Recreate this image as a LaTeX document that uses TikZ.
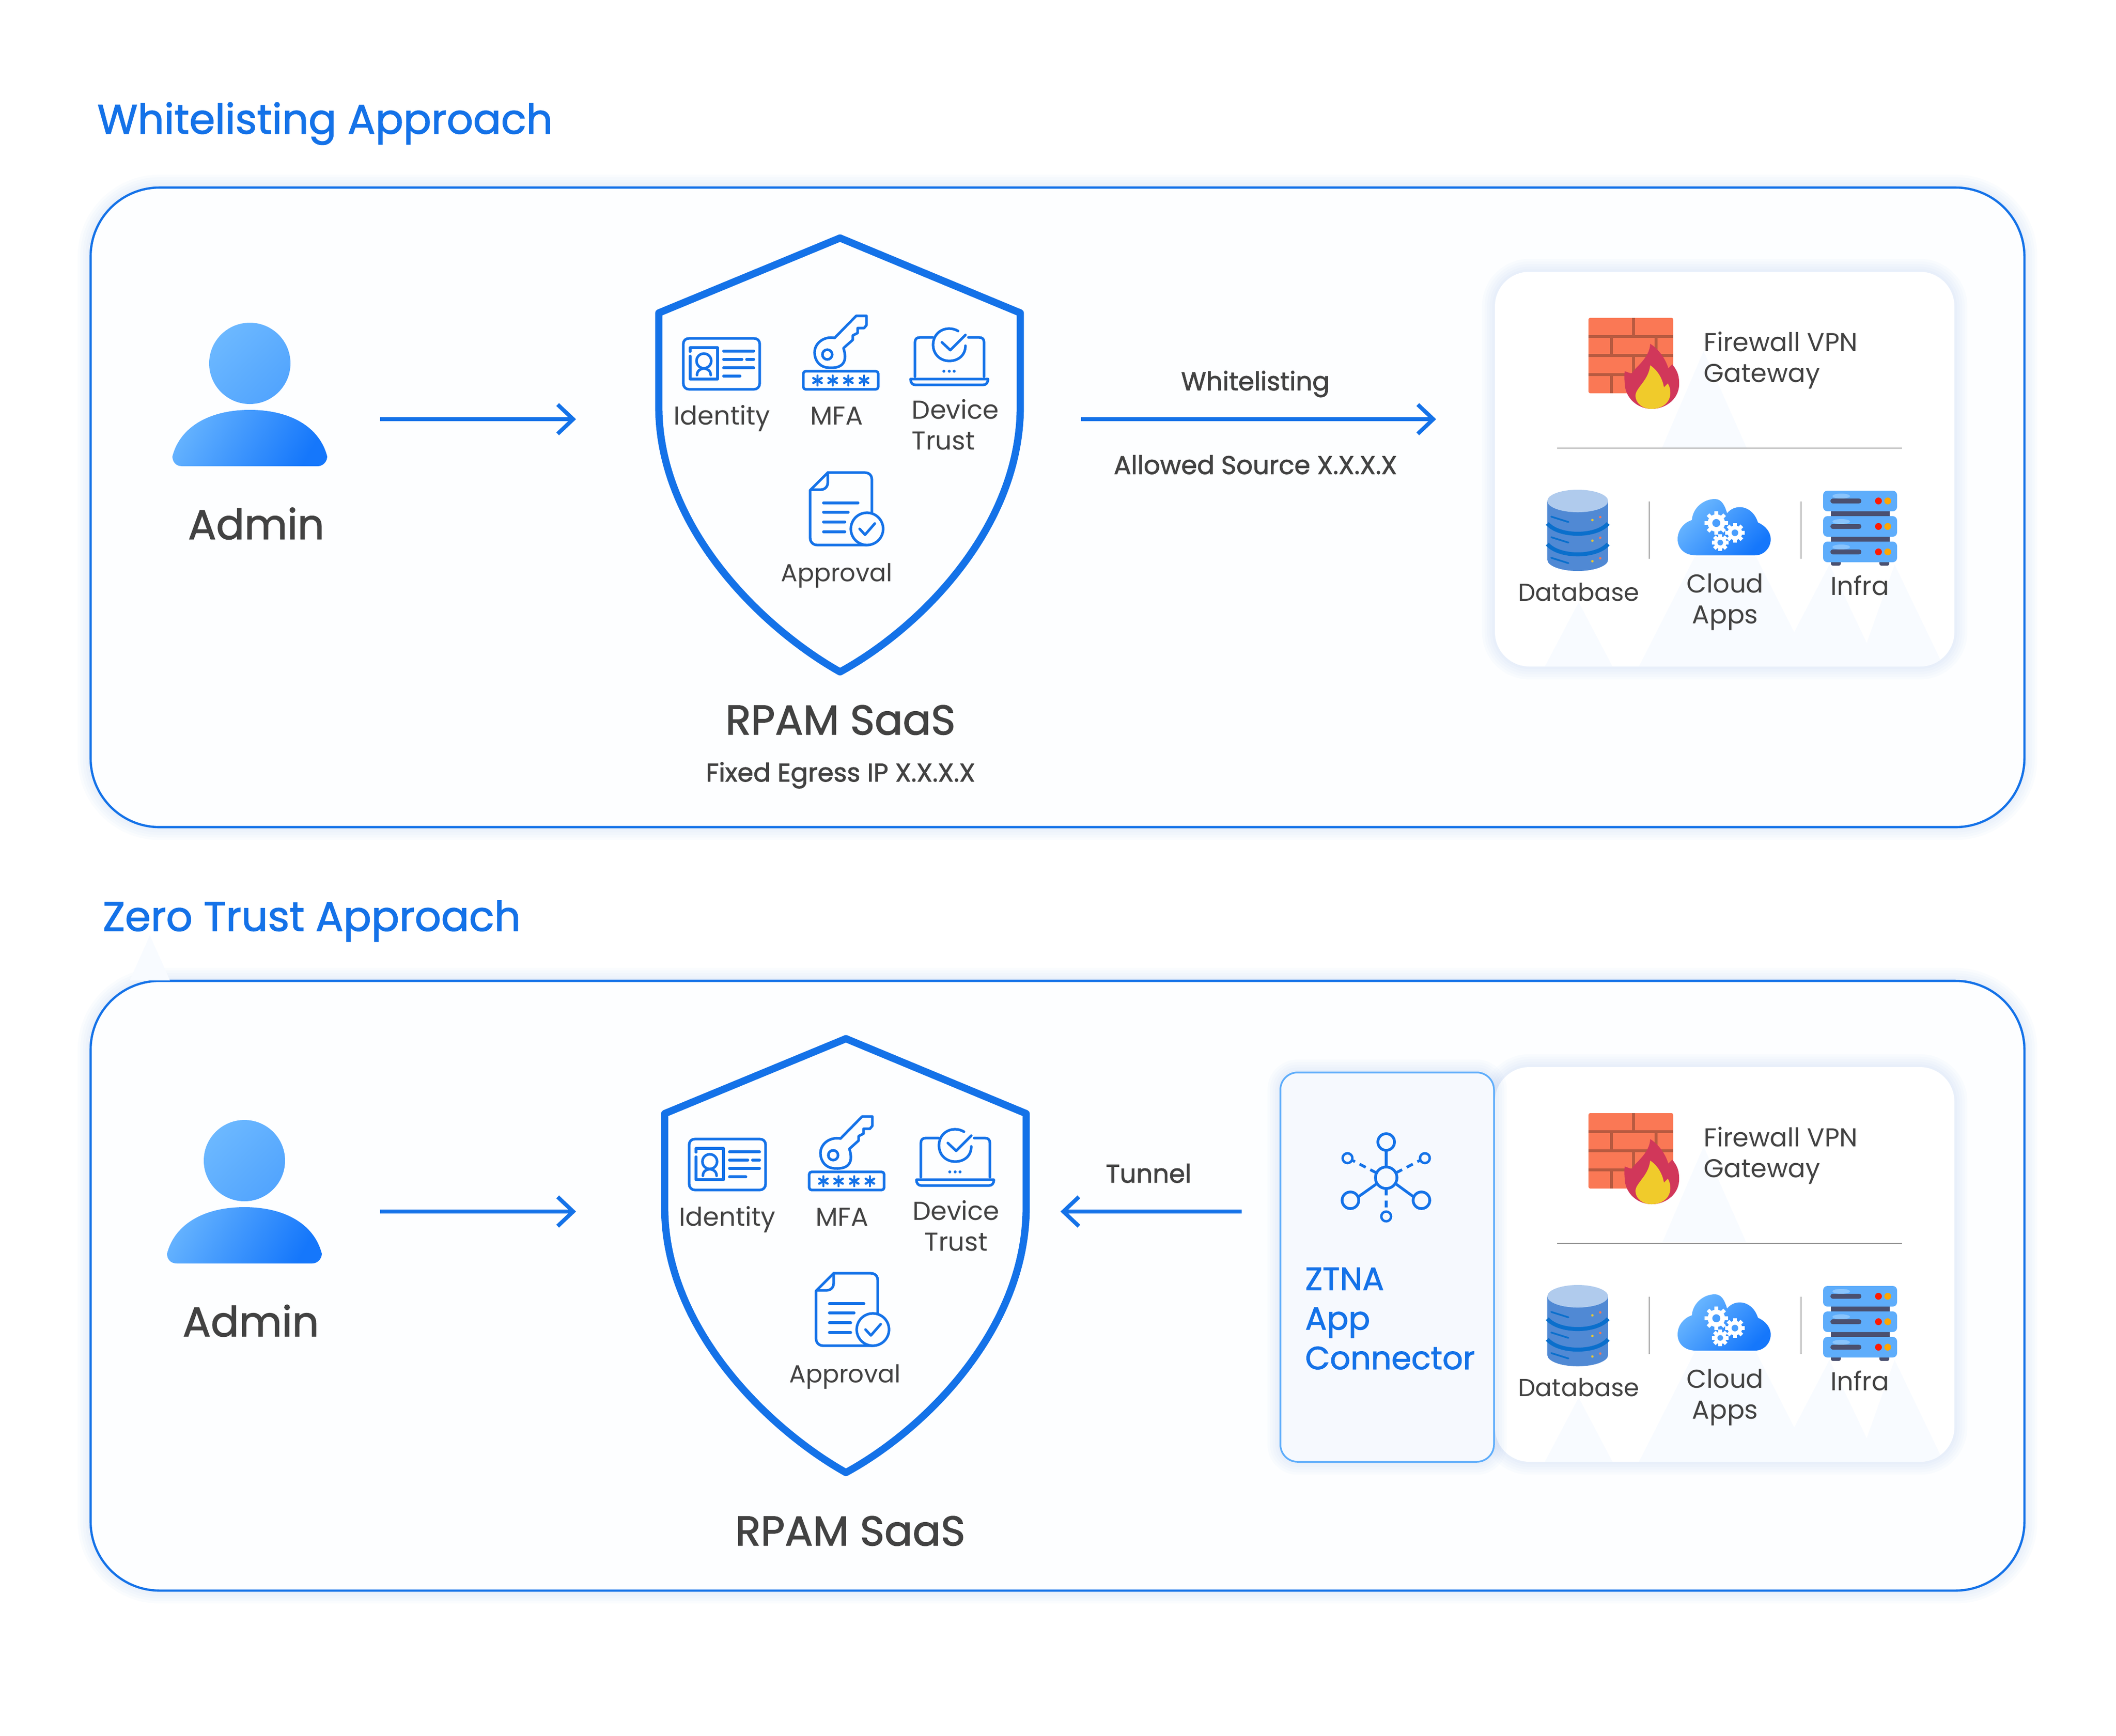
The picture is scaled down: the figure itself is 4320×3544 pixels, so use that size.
\documentclass[tikz,border=0pt]{standalone}
\usepackage{fontspec}
\setmainfont{Poppins}
\newfontfamily\medfont[FakeBold=1.6]{Poppins}
\usetikzlibrary{arrows.meta}

\definecolor{brand}{HTML}{1472E8}
\definecolor{txtdark}{HTML}{424242}
\definecolor{panelfill}{HTML}{FDFEFF}
\definecolor{glowblue}{HTML}{4F8FE0}
\definecolor{faint}{HTML}{F8FBFF}
\definecolor{sepgray}{HTML}{9A9A9A}
\definecolor{brick}{HTML}{FA7855}
\definecolor{mortar}{HTML}{B85A40}
\definecolor{flamered}{HTML}{D1375A}
\definecolor{flameyel}{HTML}{F0CB2B}
\definecolor{dbbody}{HTML}{5089D4}
\definecolor{dbtop}{HTML}{B0CBED}
\definecolor{dbband}{HTML}{0A6FCC}
\definecolor{slab}{HTML}{5EADFB}
\definecolor{slabdark}{HTML}{4A5070}
\definecolor{lightblue}{HTML}{6CB8FF}
\definecolor{deepblue}{HTML}{1577FB}

% soft halo round a rounded box
\newcommand{\softglow}[3]{%
	\foreach \w in {3,6,...,15}
		{\draw [glowblue, draw opacity=.022, line width=\w pt, rounded corners=#3] #1 rectangle #2;}
}

\begin{document}
\begin{tikzpicture}[%
	x=0.01cm, y=-0.01cm,%
	title/.style ={font=\medfont\fontsize{24}{29}\selectfont, text=brand, inner sep=0pt, anchor=base west},%
	head/.style ={font=\medfont\fontsize{24.2}{29}\selectfont, text=txtdark, inner sep=0pt, anchor=base},%
	small/.style ={font=\fontsize{15}{17.9}\selectfont, text=txtdark, inner sep=0pt, anchor=base},%
	tight/.style ={small, font=\fontsize{14.3}{17.9}\selectfont},%
	note/.style ={font=\medfont\fontsize{14.9}{17}\selectfont, text=txtdark, inner sep=0pt, anchor=base},%
	icon/.style ={draw=brand, line width=1.5pt, line cap=round, line join=round},%
	flow/.style ={draw=brand, line width=2.3pt, -{Straight Barb[length=9pt,width=17pt,line width=2.3pt]}},%
	sep/.style ={draw=sepgray, line width=0.8pt},%
	]
\useasboundingbox (0,0) rectangle (4320,3544);
\fill [white] (0,0) rectangle (4320,3544);
%%% panels
	\foreach \ya/\yb in {383/1689,2003/3248}
		{\softglow{(185,\ya)}{(4133,\yb)}{40pt}
		\draw [brand, fill=panelfill, line width=1.3pt, rounded corners=40pt] (185,\ya) rectangle (4133,\yb);}
	\fill [faint] (306,1910) -- (265,2002) -- (347,2002) -- cycle;
	\node [title] (titlewhite) at (198,273) {Whitelisting Approach};
	\node [title] (titlezero) at (209,1901) {Zero Trust Approach};
%%% panels
%%% admin
	\foreach \s/\dx/\dy in {t/0/0,b/-11/1628}
	{
	\begin{scope}[shift={(\dx,\dy)}]
		\shade [left color=lightblue, right color=lightblue!70!deepblue, shading angle=45] (510,742) circle (83);
		\shade [left color=lightblue!90!deepblue, right color=deepblue, shading angle=60]
			(372,952) .. controls (358,952) and (352,942) .. (352,932)
			.. controls (368,870) and (430,837) .. (510,837)
			.. controls (590,837) and (652,870) .. (668,932)
			.. controls (668,942) and (660,952) .. (648,952) -- cycle;
		\node [head] (admin\s) at (523,1101) {Admin};
	\end{scope}
	}
%%% admin
%%% shields
	\foreach \s/\dx/\dy in {t/0/0,b/12/1635}
	{
	\begin{scope}[shift={(\dx,\dy)}]
		\draw [brand, line width=4.2pt, line join=round]
			(1715,486) -- (2083,639) -- (2083,830)
			.. controls (2083,1080) and (1875,1285) .. (1715,1372)
			.. controls (1560,1285) and (1345,1080) .. (1345,830)
			-- (1345,639) -- cycle;
		% identity
		\draw [icon] (1395,703) .. controls (1395,695) and (1400,691) .. (1407,691) -- (1539,691)
			.. controls (1546,691) and (1551,695) .. (1551,703) -- (1551,783)
			.. controls (1551,790) and (1546,795) .. (1539,795) -- (1407,795)
			.. controls (1400,795) and (1395,790) .. (1395,783) -- cycle;
		\draw [icon] (1409,718) -- (1409,710) -- (1465,710) -- (1465,774) -- (1409,774) -- (1409,727);
		\draw [icon] (1437,737) circle (15);
		\draw [icon] (1423,766) .. controls (1423,748) and (1451,748) .. (1451,766);
		\draw [icon] (1477,717) -- (1539,717);
		\draw [icon] (1477,734) -- (1515,734) (1524,734) -- (1539,734);
		\draw [icon] (1477,751) -- (1539,751);
		\draw [icon] (1477,768) -- (1511,768);
		% mfa
		\begin{scope}[xshift=-0.02cm]
		\draw [icon] (1642,763) .. controls (1642,760) and (1644,758) .. (1647,758) -- (1790,758)
			.. controls (1793,758) and (1795,760) .. (1795,763) -- (1795,790)
			.. controls (1795,793) and (1793,795) .. (1790,795) -- (1647,795)
			.. controls (1644,795) and (1642,793) .. (1642,790) -- cycle;
		\foreach \x in {1671,1702,1734,1766}
			\foreach \a in {90,30,-30}
				{\draw [brand, line width=1.3pt, line cap=round] (\x,777) ++(\a:10) -- ++(\a+180:20);}
		\draw [icon] (1724,711) .. controls (1735,745) and (1715,752) .. (1696,751)
			.. controls (1675,751) and (1665,735) .. (1665,720)
			.. controls (1665,700) and (1685,686) .. (1706,690)
			-- (1750,645) -- (1771,645) -- (1771,664) -- (1766,670) -- (1753,670)
			-- (1753,680) -- (1743,685) -- (1743,694) -- cycle;
		\draw [icon] (1691,724) circle (10);
		\end{scope}
		% device
		\begin{scope}[xshift=-0.05cm]
		\draw [icon] (1909,689) -- (1883,689) .. controls (1876,689) and (1873,693) .. (1873,699) -- (1873,769);
		\draw [icon] (1982,689) -- (2004,689) .. controls (2011,689) and (2014,693) .. (2014,699) -- (2014,769);
		\draw [icon] (1864,774) -- (2022,774) .. controls (2022,782) and (2018,786) .. (2012,786)
			-- (1874,786) .. controls (1868,786) and (1864,782) .. (1864,774) -- cycle;
		\draw [icon] (1976,706) .. controls (1976,725) and (1962,737) .. (1943,737)
			.. controls (1924,737) and (1910,723) .. (1910,704)
			.. controls (1910,685) and (1924,671) .. (1943,671) .. controls (1950,671) and (1956,673) .. (1961,676);
		\draw [icon] (1928,699) -- (1945,715) -- (1976,684);
		\foreach \x in {1932,1943,1953}
			{\fill [brand] (\x,758) circle (3);}
		\end{scope}
		% approval
		\draw [icon] (1690,965) -- (1765,965) .. controls (1775,965) and (1780,971) .. (1780,980) -- (1780,1046);
		\draw [icon] (1690,965) -- (1654,1001) -- (1654,1098) .. controls (1654,1107) and (1660,1113) .. (1669,1113) -- (1770,1113);
		\draw [icon] (1690,967) -- (1690,985) .. controls (1690,994) and (1684,1000) .. (1675,1000) -- (1656,1000);
		\foreach \y/\xb in {1027/1752,1046/1732,1066/1725,1086/1725}
			{\draw [icon] (1681,\y) -- (\xb,\y);}
		\draw [icon, fill=panelfill] (1770,1080) circle (33);
		\draw [icon] (1755,1080) -- (1766,1092) -- (1786,1069);
	\end{scope}
	}
	\node [small] (identityt) at (1474,867) {Identity};
	\node [small] (mfat) at (1708,867) {MFA};
	\node [small, align=left, anchor=base west] (devicet) at (1861,918) {Device\\Trust};
	\node [tight] (approvalt) at (1708,1187) {Approval};
	\node [head] (rpamt) at (1716,1500) {RPAM SaaS};
	\node [note] (egresst) at (1716,1596) {Fixed Egress IP X.X.X.X};
	\node [small] (identityb) at (1485,2503) {Identity};
	\node [small] (mfab) at (1719,2503) {MFA};
	\node [small, align=center] (deviceb) at (1952,2554) {Device\\Trust};
	\node [tight] (approvalb) at (1725,2823) {Approval};
	\node [head] (rpamb) at (1736,3156) {RPAM SaaS};
%%% shields
%%% resource boxes
	\foreach \s/\dy in {t/0,b/1624}
	{
	\begin{scope}[shift={(0,\dy)}]
		\softglow{(3052,555)}{(3990,1361)}{20pt}
		\fill [white, rounded corners=20pt] (3052,555) rectangle (3990,1361);
		\begin{scope}
			\clip [rounded corners=20pt] (3052,555) rectangle (3990,1361);
			\fill [faint] (3478,717) -- (3393,915) -- (3566,915) -- cycle;
			\fill [faint] (3223,1230) -- (3154,1361) -- (3292,1361) -- cycle;
			\fill [faint] (3346,1361) -- (3460,1137) -- (3585,1137) -- (3663,1291) -- (3735,1153)
				-- (3811,1313) -- (3868,1153) -- (3968,1361) -- cycle;
		\end{scope}
		\begin{scope}[shift={(-2,-3)}]
		% firewall
		\fill [brick, rounded corners=1pt] (3245,652) rectangle (3418,806);
		\foreach \y in {690,729,768}
			{\draw [mortar, line width=1.5pt] (3245,\y) -- (3418,\y);}
		\foreach \x/\ya/\yb in {3337/652/690,3292/690/729,3383/690/729,3337/729/768,3292/768/806,3383/768/806}
			{\draw [mortar, line width=1.5pt] (\x,\ya) -- (\x,\yb);}
		\fill [flamered] (3371,705) .. controls (3390,717) and (3403,738) .. (3408,755)
			-- (3416,747) .. controls (3425,758) and (3430,768) .. (3430,784)
			.. controls (3432,815) and (3405,838) .. (3374,838)
			.. controls (3345,838) and (3319,815) .. (3319,785)
			.. controls (3318,775) and (3318,768) .. (3319,761)
			-- (3333,766) .. controls (3338,755) and (3370,735) .. (3371,705) -- cycle;
		\fill [flameyel] (3371,749) .. controls (3385,758) and (3396,775) .. (3399,794)
			-- (3407,786) .. controls (3412,795) and (3412,800) .. (3412,806)
			.. controls (3412,825) and (3395,838) .. (3374,838)
			.. controls (3355,838) and (3341,826) .. (3341,811)
			.. controls (3341,795) and (3368,780) .. (3371,749) -- cycle;
		\draw [sep] (3181,918) -- (3885,918);
		\draw [sep] (3369,1027) -- (3369,1144);
		\draw [sep] (3679,1027) -- (3679,1144);
		% database
		\fill [dbbody] (3161,1026) rectangle (3285,1146);
		\fill [dbbody] (3223,1146) ellipse [x radius=62, y radius=23];
		\foreach \d in {0,42}
			{\draw [dbband, line width=2.3pt] (3161,1072+\d) .. controls (3185,1100+\d) and (3261,1100+\d) .. (3285,1072+\d);}
		\foreach \d in {0,42,84}
			{\draw [dbband, line width=1pt, line cap=round] (3169,1058+\d) -- (3204,1069+\d);
			\fill [flameyel] (3253,1065+\d) circle (2.5);
			\fill [brick] (3269,1059+\d) circle (2.5);}
		\fill [dbtop] (3223,1026) ellipse [x radius=62, y radius=23];
		% cloud
		\shade [left color=lightblue, right color=deepblue, shading angle=45]
			(3465,1137) .. controls (3440,1137) and (3427,1122) .. (3427,1104)
			.. controls (3427,1085) and (3440,1070) .. (3456,1065)
			.. controls (3458,1040) and (3480,1022) .. (3503,1022)
			.. controls (3517,1022) and (3523,1035) .. (3528,1051)
			.. controls (3545,1030) and (3580,1035) .. (3591,1070)
			.. controls (3607,1077) and (3617,1090) .. (3617,1104)
			.. controls (3617,1122) and (3603,1137) .. (3585,1137) -- cycle;
		\foreach \cx/\cy/\r in {3506/1071/24,3544/1091/20,3514/1111/17}
			{\foreach \a in {0,45,...,315}
				{\draw [white, line width=2.2pt] (\cx,\cy) -- ++(\a:\r);}
			\fill [white] (\cx,\cy) circle (\r*0.74);
			\fill [lightblue!60!deepblue] (\cx,\cy) circle (\r*0.34);}
		% infra
		\begin{scope}[xshift=-0.03cm]
		\fill [slabdark] (3743,1040) rectangle (3863,1115);
		\foreach \x in {3753,3852}
			{\fill [slabdark, rounded corners=1pt] (\x-10,1145) rectangle (\x+10,1158);}
		\foreach \d in {0,52,104}
			{\fill [slab, rounded corners=2.5pt] (3727,1005+\d) rectangle (3878,1047+\d);
			\fill [lightblue!60!white, opacity=.6] (3764,1016+\d) ellipse [x radius=18, y radius=5];
			\fill [slabdark, rounded corners=1.3pt] (3742,1021+\d) rectangle (3805,1031+\d);
			\fill [red!80!orange] (3840,1026+\d) circle (7);
			\fill [orange!70!yellow] (3859,1026+\d) circle (7);}
		\end{scope}
		\end{scope}
		% labels
		\node [small, align=left, anchor=base west] (gateway\s) at (3478,780) {Firewall VPN\\Gateway};
		\node [tight] (database\s) at (3223,1227) {Database};
		\node [small, align=center] (cloud\s) at (3522,1273) {Cloud\\Apps};
		\node [small] (infra\s) at (3797,1215) {Infra};
	\end{scope}
	}
%%% resource boxes
%%% connector box
	\softglow{(2614,2190)}{(3050,2985)}{10pt}
	\draw [draw=slab, fill=brand!4!white, line width=1pt, rounded corners=10pt] (2614,2190) rectangle (3050,2985);
	\node [small, font=\medfont\fontsize{18.6}{23}\selectfont, text=brand, align=left, anchor=base west] (ztna) at (2664,2796) {ZTNA\\App\\Connector};
	\foreach \x/\y in {2830/2332,2757/2451,2902/2451}
		{\draw [brand, line width=1.6pt] (\x,\y) circle (17);}
	\foreach \x/\y in {2751/2365,2909/2365,2830/2484}
		{\draw [brand, line width=1.4pt] (\x,\y) circle (10);}
	\draw [brand, line width=1.6pt] (2830,2405) circle (22);
	\draw [brand, line width=1.6pt] (2830,2383) -- (2830,2349) (2811,2417) -- (2773,2444) (2849,2417) -- (2886,2444);
	\draw [brand, line width=1.6pt, dash pattern=on 4pt off 3pt] (2810,2395) -- (2762,2370) (2850,2395) -- (2898,2370) (2830,2427) -- (2830,2474);
%%% connector box
%%% arrows
	\coordinate (adminoutt) at (776,856);
	\coordinate (rpamint) at (1176,856);
	\coordinate (rpamoutt) at (2207,856);
	\coordinate (sourcet) at (2932,856);
	\coordinate (adminoutb) at (776,2474);
	\coordinate (rpaminb) at (1176,2474);
	\coordinate (connout) at (2535,2474);
	\coordinate (rpamtun) at (2165,2474);
	\draw [flow] (adminoutt) -- (rpamint);
	\draw [flow] (rpamoutt) -- (sourcet);
	\draw [flow] (adminoutb) -- (rpaminb);
	\draw [flow] (connout) -- (rpamtun);
	\node [note] (whitelisting) at (2563,797) {Whitelisting};
	\node [note] (allowed) at (2563,968) {Allowed Source X.X.X.X};
	\node [note] (tunnel) at (2345,2415) {Tunnel};
%%% arrows
\end{tikzpicture}
\end{document}
